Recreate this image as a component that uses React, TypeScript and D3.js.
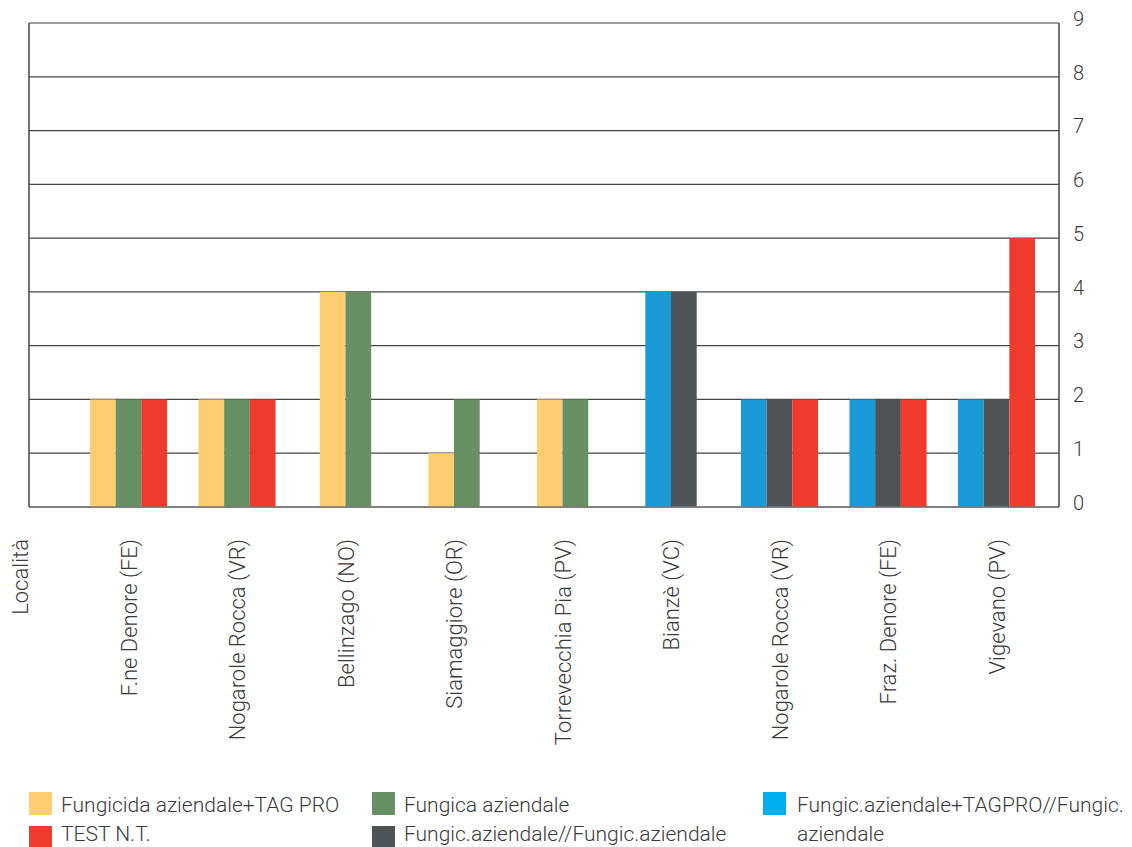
import React from "react";
import * as d3 from "d3";

// Località (x axis header) followed by the trial sites
const categories = [
  "Località",
  "F.ne Denore (FE)",
  "Nogarole Rocca (VR)",
  "Bellinzago (NO)",
  "Siamaggiore (OR)",
  "Torrevecchia Pia (PV)",
  "Bianzè (VC)",
  "Nogarole Rocca (VR)",
  "Fraz. Denore (FE)",
  "Vigevano (PV)",
];

const seriesNames = [
  "Fungicida aziendale+TAG PRO",
  "Fungica aziendale",
  "Fungic.aziendale+TAGPRO//Fungic. aziendale",
  "Fungic.aziendale//Fungic.aziendale",
  "TEST N.T.",
];
const barColors = ["#FDCD72", "#679065", "#1A9BD8", "#4F5356", "#EF3B2D"];
const swatchColors = ["#FDCD72", "#679065", "#00ADEE", "#4F5356", "#EF3B2D"];

// values per series, aligned with categories (null = no bar)
const yellowValues = [null, 2, 2, 4, 1, 2, null, null, null, null];
const greenValues = [null, 2, 2, 4, 2, 2, null, null, null, null];
const blueValues = [null, null, null, null, null, null, 4, 2, 2, 2];
const darkValues = [null, null, null, null, null, null, 4, 2, 2, 2];
const redValues = [null, 2, 2, null, null, null, null, 2, 2, 5];

const seriesValues = [yellowValues, greenValues, blueValues, darkValues, redValues];
const yTicks = [0, 1, 2, 3, 4, 5, 6, 7, 8, 9];

const W = 1132;
const H = 847;
const FONT = "Roboto, 'Noto Sans', sans-serif";
const TEXT = "#3a3a3a";

export default function App() {
  const left = 29;
  const right = 1059;
  const top = 23;
  const bottom = 507;

  const x = d3
    .scalePoint<number>()
    .domain(categories.map((_, i) => i))
    .range([20, 996.5]);
  const y = d3.scaleLinear().domain([0, 9]).range([bottom, top]);
  const barW = 25.7;

  const bars: React.ReactNode[] = [];
  categories.forEach((_, ci) => {
    const present = seriesValues
      .map((vals, si) => ({ si, v: vals[ci] }))
      .filter((d) => d.v != null) as { si: number; v: number }[];
    const start = (x(ci) as number) - (present.length * barW) / 2;
    present.forEach((d, k) => {
      bars.push(
        <rect
          key={`b-${ci}-${d.si}`}
          x={start + k * barW}
          y={y(d.v)}
          width={barW}
          height={y(0) - y(d.v)}
          fill={barColors[d.si]}
        />
      );
    });
  });

  // legend layout: three columns, two rows
  const legendItems = [
    { si: 0, x: 29, row: 0 },
    { si: 4, x: 29, row: 1 },
    { si: 1, x: 372, row: 0 },
    { si: 3, x: 372, row: 1 },
    { si: 2, x: 763, row: 0 },
  ];

  return (
    <svg
      width={W}
      height={H}
      style={{ position: "absolute", left: 0, top: 0, background: "#fff" }}
      fontFamily={FONT}
    >
      {/* horizontal grid */}
      {yTicks.map((t) => (
        <line
          key={`g-${t}`}
          x1={left}
          x2={right}
          y1={y(t)}
          y2={y(t)}
          stroke="#444"
          strokeWidth={1.2}
        />
      ))}
      {bars}
      {/* frame */}
      <line x1={left} x2={left} y1={top} y2={bottom} stroke="#444" strokeWidth={1.5} />
      <line x1={right} x2={right} y1={top} y2={bottom} stroke="#444" strokeWidth={1.5} />
      <line x1={left} x2={right} y1={bottom} y2={bottom} stroke="#777" strokeWidth={1.5} />

      {/* right value axis */}
      {yTicks.map((t) => (
        <text
          key={`t-${t}`}
          x={1073}
          y={y(t) - 2.5}
          dominantBaseline="middle"
          fontSize={20}
          fontWeight={300}
          fill={TEXT}
        >
          {t}
        </text>
      ))}

      {/* rotated category labels */}
      {categories.map((c, i) => (
        <text
          key={`c-${i}`}
          transform={`translate(${(x(i) as number) + 8},539) rotate(-90)`}
          textAnchor="end"
          fontSize={22}
          fontWeight={300}
          fill={TEXT}
        >
          {c}
        </text>
      ))}

      {/* legend */}
      {legendItems.map((d) => {
        const ly = 792 + d.row * 34;
        const ty = 812 + d.row * 29;
        const name = seriesNames[d.si];
        const wrap = d.si === 2;
        return (
          <g key={`l-${d.si}`}>
            <rect x={d.x} y={ly} width={23} height={23} fill={swatchColors[d.si]} />
            {wrap ? (
              <text x={d.x + 34} y={ty} fontSize={21} fontWeight={300} fill={TEXT}>
                <tspan x={d.x + 34}>Fungic.aziendale+TAGPRO//Fungic.</tspan>
                <tspan x={d.x + 34} dy={29}>aziendale</tspan>
              </text>
            ) : (
              <text x={d.x + 32} y={ty} fontSize={21} fontWeight={300} fill={TEXT}>
                {name}
              </text>
            )}
          </g>
        );
      })}
    </svg>
  );
}
